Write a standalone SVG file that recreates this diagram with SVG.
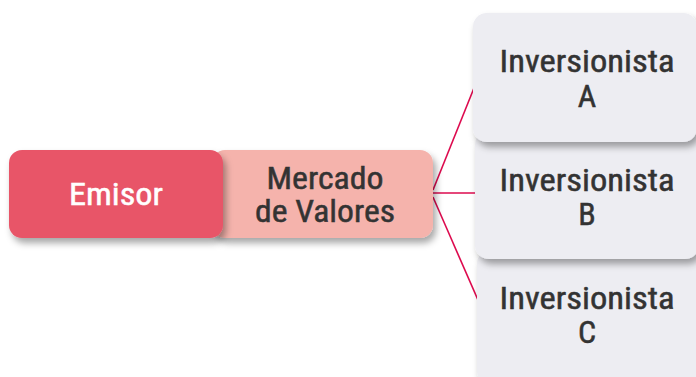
<svg xmlns="http://www.w3.org/2000/svg" width="696" height="377" viewBox="0 0 696 377">
<defs>
<filter id="sh" x="-20%" y="-20%" width="140%" height="150%">
<feDropShadow dx="3" dy="5" stdDeviation="3.5" flood-color="#000" flood-opacity="0.35"/>
</filter>
</defs>
<style>
.t{font-family:"Liberation Sans Narrow","Roboto Condensed","DejaVu Sans Condensed","Liberation Sans",sans-serif;font-size:32px;font-weight:normal;text-anchor:middle;fill:#333333;stroke:#333333;stroke-width:0.5}
.w{fill:#ffffff;stroke:#ffffff}
.inv{fill:#EDEDF2;filter:url(#sh)}
.c{stroke:#DD0A4E;stroke-width:1.6;fill:none}
</style>
<rect width="696" height="377" fill="#ffffff"/>
<g id="connectors">
<line class="c" x1="433" y1="190" x2="474" y2="88"/>
<line class="c" x1="433" y1="193" x2="476" y2="193"/>
<line class="c" x1="433" y1="197" x2="478" y2="300"/>
</g>
<g id="inversionista-c">
<rect class="inv" x="477" y="250" width="224" height="135" rx="14"/>
<text class="t" x="587" y="309" textLength="175" lengthAdjust="spacingAndGlyphs">Inversionista</text>
<text class="t" x="587" y="343">C</text>
</g>
<g id="inversionista-b">
<rect class="inv" x="475" y="131" width="224" height="128" rx="14"/>
<text class="t" x="587" y="191" textLength="175" lengthAdjust="spacingAndGlyphs">Inversionista</text>
<text class="t" x="587" y="225">B</text>
</g>
<g id="inversionista-a">
<rect class="inv" x="473" y="13" width="224" height="129" rx="14"/>
<text class="t" x="587" y="72" textLength="175" lengthAdjust="spacingAndGlyphs">Inversionista</text>
<text class="t" x="587" y="107">A</text>
</g>
<g id="mercado">
<rect x="212" y="150" width="221" height="88" rx="13" fill="#F5B3AC" filter="url(#sh)"/>
<text class="t" x="325" y="189" textLength="117" lengthAdjust="spacingAndGlyphs">Mercado</text>
<text class="t" x="325" y="222" textLength="140" lengthAdjust="spacingAndGlyphs">de Valores</text>
</g>
<g id="emisor">
<rect x="9" y="150" width="214" height="88" rx="13" fill="#E85468" filter="url(#sh)"/>
<text class="t w" x="116" y="205" textLength="94" lengthAdjust="spacingAndGlyphs">Emisor</text>
</g>
</svg>
